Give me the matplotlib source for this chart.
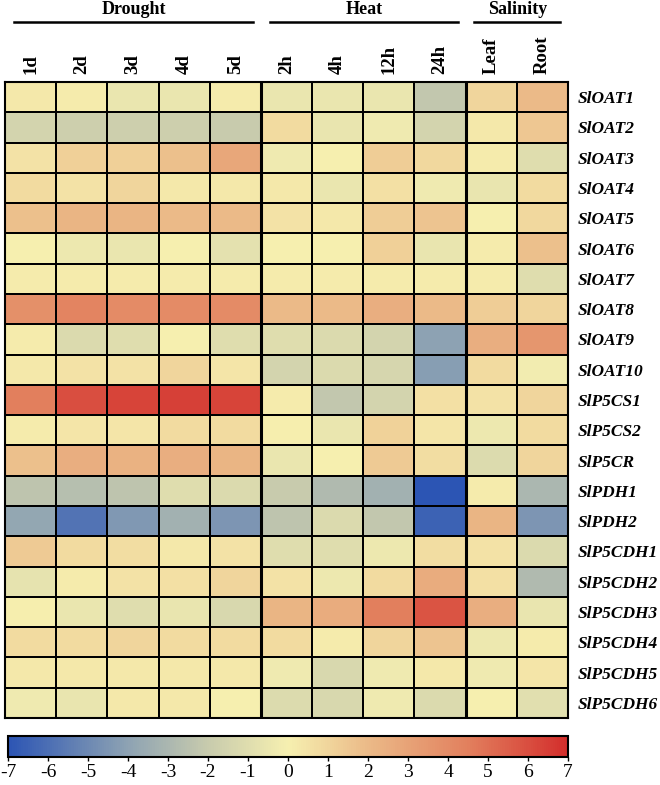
import numpy as np
import matplotlib
matplotlib.use('Agg')
from matplotlib import pyplot as plt
from matplotlib.colors import LinearSegmentedColormap
from matplotlib.transforms import blended_transform_factory

plt.rcParams['axes.unicode_minus'] = False

conditions = ['1d', '2d', '3d', '4d', '5d', '2h', '4h', '12h', '24h', 'Leaf', 'Root']
genes = ['SlOAT1', 'SlOAT2', 'SlOAT3', 'SlOAT4', 'SlOAT5', 'SlOAT6', 'SlOAT7',
         'SlOAT8', 'SlOAT9', 'SlOAT10', 'SlP5CS1', 'SlP5CS2', 'SlP5CR', 'SlPDH1',
         'SlPDH2', 'SlP5CDH1', 'SlP5CDH2', 'SlP5CDH3', 'SlP5CDH4', 'SlP5CDH5',
         'SlP5CDH6']
groups = ['Drought', 'Heat', 'Salinity']
group_sizes = [5, 4, 2]

# log2 fold change, columns follow `conditions`
drought = [
    [0.3, 0.2, -0.5, -0.5, 0.2],
    [-1.5, -1.8, -1.8, -1.8, -2.0],
    [0.5, 1.2, 1.2, 1.8, 2.8],
    [0.8, 0.5, 1.0, 0.3, 0.3],
    [1.8, 2.2, 2.2, 2.0, 2.0],
    [0.0, -0.4, -0.5, 0.0, -0.8],
    [0.2, 0.2, 0.2, 0.2, 0.2],
    [3.8, 4.3, 4.0, 4.0, 4.0],
    [0.2, -1.2, -1.0, 0.0, -1.0],
    [0.3, 0.5, 0.5, 1.0, 0.4],
    [4.5, 6.0, 6.3, 6.4, 6.3],
    [0.2, 0.4, 0.4, 0.8, 0.8],
    [1.8, 2.5, 2.3, 2.5, 2.2],
    [-2.3, -2.6, -2.3, -1.0, -1.2],
    [-3.8, -5.8, -4.4, -3.3, -4.5],
    [1.4, 0.8, 0.7, 0.3, 0.5],
    [-0.7, 0.2, 0.5, 0.6, 1.0],
    [0.1, -0.5, -1.0, -0.6, -1.3],
    [0.8, 0.8, 1.0, 0.8, 0.8],
    [0.3, 0.3, 0.3, 0.3, 0.3],
    [-0.3, -0.6, 0.3, 0.3, 0.0],
]
heat = [
    [-0.5, -0.5, -0.5, -2.2],
    [0.8, -0.6, -0.3, -1.5],
    [-0.3, 0.0, 1.3, 0.9],
    [0.3, -0.5, 0.6, -0.3],
    [0.5, 0.3, 1.3, 1.6],
    [0.0, 0.0, 1.2, -0.6],
    [0.2, 0.2, 0.2, 0.2],
    [2.0, 2.0, 2.5, 2.0],
    [-1.0, -1.2, -1.5, -4.0],
    [-1.5, -1.2, -1.4, -4.2],
    [0.2, -2.2, -1.5, 0.6],
    [0.1, -0.5, 1.1, 0.4],
    [-0.5, 0.0, 1.4, 0.7],
    [-2.0, -2.8, -3.3, -7.0],
    [-2.3, -1.2, -2.2, -6.5],
    [-1.0, -1.0, -0.4, 0.7],
    [0.5, -0.4, 0.8, 2.6],
    [2.2, 2.6, 4.5, 5.8],
    [0.8, 0.2, 1.0, 1.6],
    [-0.3, -1.3, -0.3, 0.3],
    [-1.1, -1.3, -0.3, -1.2],
]
salinity = [
    [1.0, 2.0],
    [0.3, 1.5],
    [0.2, -1.0],
    [-0.6, 0.8],
    [0.0, 0.9],
    [0.2, 1.8],
    [0.2, -1.0],
    [1.3, 1.0],
    [2.5, 3.5],
    [0.8, -0.2],
    [0.5, 1.0],
    [-0.4, 0.8],
    [-1.1, 1.0],
    [0.2, -3.0],
    [2.2, -4.5],
    [0.5, -1.2],
    [0.6, -2.8],
    [2.5, -0.6],
    [-0.4, 0.2],
    [-0.3, 0.4],
    [0.0, -0.9],
]

values = np.hstack([np.array(drought), np.array(heat), np.array(salinity)])

cmap = LinearSegmentedColormap.from_list('rb', [
    (0.0, '#2c55b4'),
    (3 / 14, '#8ea3b3'),
    (5 / 14, '#c8cbad'),
    (7 / 14, '#f6f0b0'),
    (9 / 14, '#ebba88'),
    (11.5 / 14, '#e2805e'),
    (1.0, '#d32e2c'),
])

serif = ['Liberation Serif', 'DejaVu Serif']
W, H = 660, 785
fig = plt.figure(figsize=(W / 100, H / 100), dpi=100)

ax = fig.add_axes([5 / W, 1 - 718 / H, 563 / W, 636 / H])
mesh = ax.pcolormesh(values, cmap=cmap, vmin=-7, vmax=7,
                     edgecolors='black', linewidth=1.2)
ax.set_xlim(0, len(conditions))
ax.set_ylim(len(genes), 0)
for b in np.cumsum(group_sizes)[:-1]:
    ax.axvline(b, color='black', lw=2.2)
for s in ax.spines.values():
    s.set_linewidth(1.5)

ax.set_xticks(np.arange(len(conditions)) + 0.5)
ax.set_xticklabels(conditions, rotation=90, family=serif, fontweight='bold',
                   fontsize=13.5)
ax.xaxis.tick_top()
ax.tick_params(axis='x', length=0, pad=6)
ax.set_yticks(np.arange(len(genes)) + 0.5)
ax.set_yticklabels(genes, family=serif, fontweight='bold', style='italic',
                   fontsize=12.5)
ax.yaxis.tick_right()
ax.tick_params(axis='y', length=0, pad=7)

# group headers
trans = blended_transform_factory(ax.transData, fig.transFigure)
start = 0
for name, n in zip(groups, group_sizes):
    x0, x1 = start + 0.17, start + n - 0.15
    ax.plot([x0, x1], [1 - 22 / H] * 2, color='black', lw=1.8,
            transform=trans, clip_on=False)
    ax.text((x0 + x1) / 2, 1 - 9 / H, name, transform=trans, ha='center',
            va='center', family=serif, fontweight='bold', fontsize=13)
    start += n

cax = fig.add_axes([8 / W, 1 - 757 / H, 560 / W, 21 / H])
cb = fig.colorbar(mesh, cax=cax, orientation='horizontal',
                  ticks=np.arange(-7, 8))
cb.outline.set_linewidth(1.5)
cax.tick_params(length=3, width=1, pad=2)
for t in cax.get_xticklabels():
    t.set_family(serif)
    t.set_fontsize(14)

fig.savefig('out.png', dpi=100)
